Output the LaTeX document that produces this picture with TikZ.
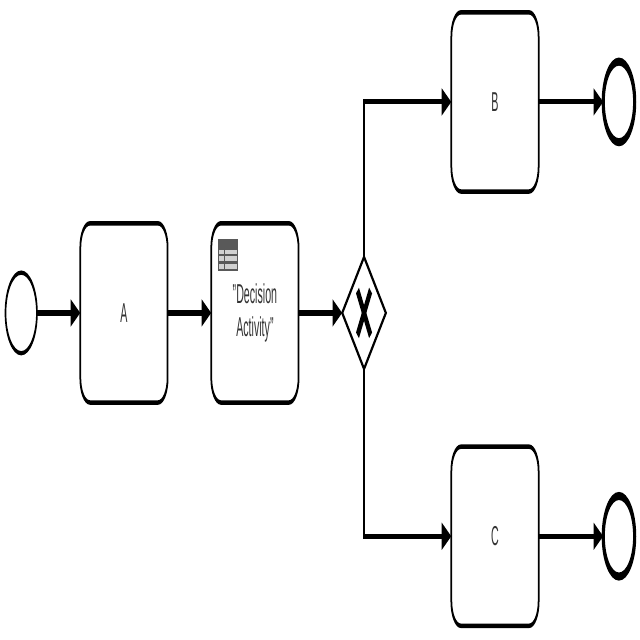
\documentclass[tikz,border=0pt]{standalone}
\usepackage{fontspec}
\setmainfont{Liberation Sans}
\usetikzlibrary{arrows.meta,shapes.geometric}
\tikzset{
  taskbox/.style={draw=black,fill=white,line width=2pt,rounded corners=11pt,
    minimum width=100pt,minimum height=80pt,inner sep=0pt,outer sep=0pt,
    align=center,text=black!80,font=\fontsize{12.2}{14.3}\selectfont},
  startevent/.style={circle,draw=black,fill=white,line width=1.9pt,
    minimum size=36pt,inner sep=0pt,outer sep=0pt},
  endevent/.style={circle,draw=black,fill=white,line width=3.6pt,
    minimum size=36pt,inner sep=0pt,outer sep=0pt},
  xgateway/.style={diamond,draw=black,fill=white,line width=1.9pt,aspect=1,
    minimum width=50pt,minimum height=50pt,inner sep=0pt,outer sep=0pt},
  flow/.style={draw=black,line width=2.3pt,
    -{Triangle[length=11pt,width=11.5pt]}},
  xmark/.style={draw=black,line width=4.2pt},
  tablerule/.style={draw=black!65,line width=1pt}
}
\begin{document}
\begin{tikzpicture}[x=1pt,y=-1pt]
  \useasboundingbox (0,0) rectangle (640,640);
  \begin{scope}[transform canvas={xscale=.873,yscale=2.24}]
    % events, tasks and the exclusive gateway
    \node[startevent] (start) at (24.3,139.7) {};
    \node[taskbox] (a) at (142,139.7) {A};
    \node[taskbox] (decision) at (292,139.7) {"Decision\\Activity"};
    \node[xgateway] (gw) at (417,139.7) {};
    \node[taskbox] (b) at (567,45.5) {B};
    \node[taskbox] (c) at (567,239.4) {C};
    \node[endevent] (endb) at (709,45.5) {};
    \node[endevent] (endc) at (709,239.4) {};

    % sequence flows
    \draw[flow] (start) -- (a);
    \draw[flow] (a) -- (decision);
    \draw[flow] (decision) -- (gw);
    \draw[flow] (gw.north) |- (b.west);
    \draw[flow] (gw.south) |- (c.west);
    \draw[flow] (b) -- (endb);
    \draw[flow] (c) -- (endc);

    % exclusive marker inside the gateway
    \coordinate (xa) at ([shift={(-7.5,-10)}]gw.center);
    \coordinate (xb) at ([shift={(7.5,10)}]gw.center);
    \coordinate (xc) at ([shift={(7.5,-10)}]gw.center);
    \coordinate (xd) at ([shift={(-7.5,10)}]gw.center);
    \draw[xmark] (xa) -- (xb);
    \draw[xmark] (xc) -- (xd);

    % decision table icon in the task corner
    \fill[black!65] (250,107) rectangle (271.5,111);
    \fill[black!18] (250,111) rectangle (271.5,120.5);
    \draw[tablerule] (250,107) rectangle (271.5,120.5);
    \draw[tablerule] (250,111) -- (271.5,111);
    \draw[tablerule] (250,114) -- (271.5,114);
    \draw[tablerule] (250,117.2) -- (271.5,117.2);
    \draw[tablerule] (257,111) -- (257,120.5);
  \end{scope}
\end{tikzpicture}
\end{document}
